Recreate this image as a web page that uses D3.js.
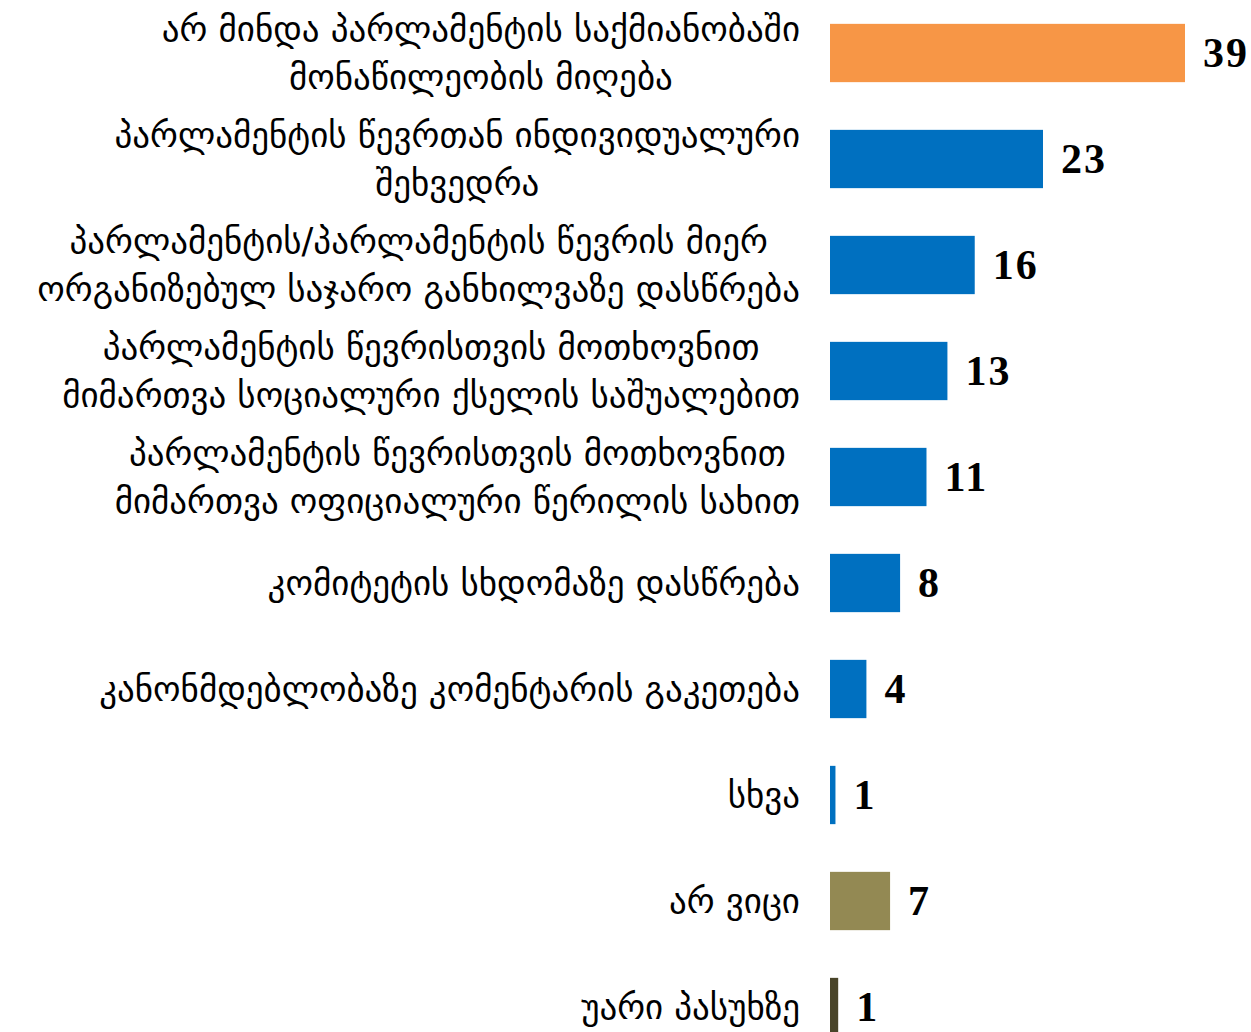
<!DOCTYPE html>
<html>
<head>
<meta charset="utf-8">
<script src="https://cdn.jsdelivr.net/npm/d3@7"></script>
<style>
  html, body { margin: 0; padding: 0; background: #fff; overflow: hidden; }
</style>
</head>
<body>
<svg id="chart" width="1251" height="1032"></svg>
<script>
// ---- data ----
const categories = [
  ["არ მინდა პარლამენტის საქმიანობაში", "მონაწილეობის მიღება"],
  ["პარლამენტის წევრთან ინდივიდუალური", "შეხვედრა"],
  ["პარლამენტის/პარლამენტის წევრის მიერ", "ორგანიზებულ საჯარო განხილვაზე დასწრება"],
  ["პარლამენტის წევრისთვის მოთხოვნით", "მიმართვა სოციალური ქსელის საშუალებით"],
  ["პარლამენტის წევრისთვის მოთხოვნით", "მიმართვა ოფიციალური წერილის სახით"],
  ["კომიტეტის სხდომაზე დასწრება"],
  ["კანონმდებლობაზე კომენტარის გაკეთება"],
  ["სხვა"],
  ["არ ვიცი"],
  ["უარი პასუხზე"]
];
const values = [39.0, 23.4, 15.9, 12.9, 10.6, 7.7, 4.0, 0.6, 6.6, 0.9];
const valueLabels = ["39", "23", "16", "13", "11", "8", "4", "1", "7", "1"];
const barColors = ["#F79646", "#0070C0", "#0070C0", "#0070C0", "#0070C0", "#0070C0", "#0070C0", "#0070C0", "#938953", "#494429"];

// ---- chart ----
const svg = d3.select("#chart");
const x0 = 830;
const x = d3.scaleLinear().domain([0, 39]).range([x0, 1185]);
const y = d3.scaleBand().domain(d3.range(values.length)).range([0, 1060])
  .paddingInner(0.45).paddingOuter(0.225);

const g = svg.append("g");

g.selectAll("rect.bar").data(values).join("rect")
  .attr("class", "bar")
  .attr("x", x(0))
  .attr("y", (d, i) => y(i))
  .attr("width", d => x(d) - x(0))
  .attr("height", y.bandwidth())
  .attr("fill", (d, i) => barColors[i]);

g.selectAll("text.val").data(values).join("text")
  .attr("class", "val")
  .attr("x", d => x(d) + 18)
  .attr("y", (d, i) => y(i) + y.bandwidth() / 2)
  .attr("dy", "0.34em")
  .attr("font-family", "Liberation Serif, serif")
  .attr("font-weight", "bold")
  .attr("font-size", 42)
  .attr("letter-spacing", 2)
  .attr("fill", "#000")
  .text((d, i) => valueLabels[i]);

const lineGap = 48;
const labelRight = 800;
categories.forEach((lines, i) => {
  const cy = y(i) + y.bandwidth() / 2;
  const n = lines.length;
  const grp = g.append("g").attr("class", "cat");
  const texts = lines.map((t, j) => grp.append("text")
      .attr("y", cy + (j - (n - 1) / 2) * lineGap)
      .attr("dy", "0.35em")
      .attr("text-anchor", "middle")
      .attr("font-family", "DejaVu Sans, sans-serif")
      .attr("font-size", 35)
      .attr("fill", "#000")
      .text(t));
  const maxW = d3.max(texts, s => s.node().getComputedTextLength());
  texts.forEach(s => s.attr("x", labelRight - maxW / 2));
});
</script>
</body>
</html>
